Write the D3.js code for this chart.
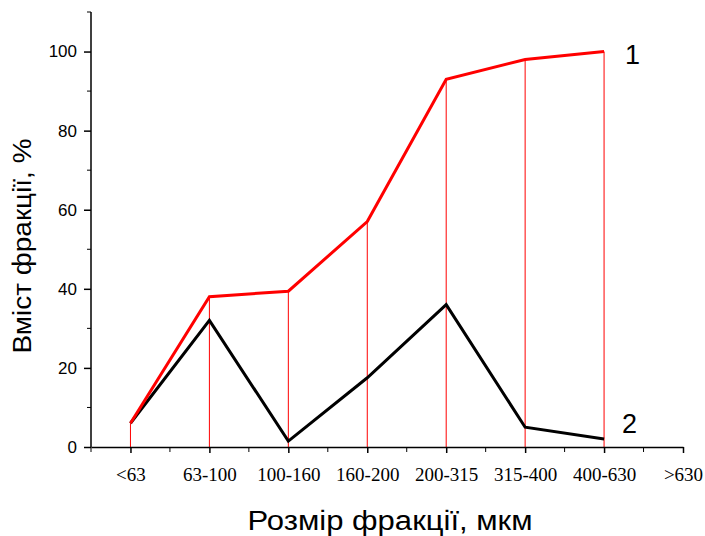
<!DOCTYPE html>
<html>
<head>
<meta charset="utf-8">
<script src="https://cdn.jsdelivr.net/npm/d3@7"></script>
<style>
  body { margin: 0; background: #fff; }
  svg { display: block; }
</style>
</head>
<body>
<div id="chart"></div>
<script>
"use strict";

// fraction size classes, µm
const categories = ["<63", "63-100", "100-160", "160-200", "200-315", "315-400", "400-630", ">630"];
// curve 1 (red) - cumulative content, %
const series1 = [6, 38, 39.4, 57, 93, 98, 100];
// curve 2 (black) - fraction content, %
const series2 = [6, 32, 1.5, 17.5, 36, 5, 2];
const yTicks = [0, 20, 40, 60, 80, 100];

const width = 705, height = 536;
const sans = "Arial, 'Liberation Sans', sans-serif";
const svg = d3.select("#chart").append("svg")
    .attr("width", width)
    .attr("height", height);

const x = d3.scaleLinear().domain([-0.5, categories.length - 1]).range([91, 683]);
const y = d3.scaleLinear().domain([0, 110]).range([447, 12]);

// drop lines from curve 1 down to the axis
svg.append("g").selectAll("line")
    .data(series1)
    .enter().append("line")
    .attr("x1", (d, i) => x(i))
    .attr("x2", (d, i) => x(i))
    .attr("y1", d => y(d))
    .attr("y2", y(0))
    .attr("stroke", "#ff0000")
    .attr("stroke-width", 1);

const line = d3.line()
    .x((d, i) => x(i))
    .y(d => y(d));

svg.append("path")
    .datum(series2)
    .attr("d", line)
    .attr("fill", "none")
    .attr("stroke", "#000")
    .attr("stroke-width", 3);

svg.append("path")
    .datum(series1)
    .attr("d", line)
    .attr("fill", "none")
    .attr("stroke", "#ff0000")
    .attr("stroke-width", 3);

// y axis
const yAxis = svg.append("g")
    .attr("transform", "translate(" + x.range()[0] + ",0)")
    .call(d3.axisLeft(y).tickValues(yTicks).tickSize(7).tickPadding(7).tickSizeOuter(0));
yAxis.select(".domain").attr("d", "M0," + y.range()[1] + "V" + y.range()[0]);
yAxis.selectAll("text")
    .attr("font-family", sans)
    .attr("font-size", 17)
    .attr("fill", "#000");
// minor y ticks
yAxis.append("g").selectAll("line")
    .data(d3.range(10, 111, 20))
    .enter().append("line")
    .attr("x1", 0).attr("x2", -4)
    .attr("y1", d => y(d)).attr("y2", d => y(d))
    .attr("stroke", "#000");

// x axis
const xAxis = svg.append("g")
    .attr("transform", "translate(0," + y(0) + ")")
    .call(d3.axisBottom(x)
        .tickValues(d3.range(categories.length))
        .tickFormat(i => categories[i])
        .tickSize(6).tickPadding(15).tickSizeOuter(0));
xAxis.selectAll("text")
    .attr("font-family", "'Liberation Serif', 'Times New Roman', serif")
    .attr("font-size", 19)
    .attr("fill", "#000");
// minor x ticks
xAxis.append("g").selectAll("line")
    .data(d3.range(-0.5, categories.length - 1, 1))
    .enter().append("line")
    .attr("x1", d => x(d)).attr("x2", d => x(d))
    .attr("y1", 0).attr("y2", 5)
    .attr("stroke", "#000");
svg.selectAll(".domain, .tick line").attr("stroke", "#000").attr("stroke-width", 1.5);

// curve labels
const last = series1.length - 1;
svg.append("text")
    .attr("x", x(last) + 21).attr("y", y(series1[last]) + 12)
    .attr("font-family", sans)
    .attr("font-size", 27)
    .text("1");
svg.append("text")
    .attr("x", x(last) + 18).attr("y", y(series2[last]) - 6)
    .attr("font-family", sans)
    .attr("font-size", 27)
    .text("2");

// axis titles
svg.append("text")
    .attr("x", 390).attr("y", 530)
    .attr("text-anchor", "middle")
    .attr("font-family", sans)
    .attr("font-size", 27)
    .attr("textLength", 285)
    .attr("lengthAdjust", "spacingAndGlyphs")
    .text("Розмір фракції, мкм");
svg.append("text")
    .attr("transform", "translate(31,246) rotate(-90)")
    .attr("text-anchor", "middle")
    .attr("font-family", sans)
    .attr("font-size", 26)
    .attr("textLength", 215)
    .attr("lengthAdjust", "spacingAndGlyphs")
    .text("Вміст фракції, %");
</script>
</body>
</html>
